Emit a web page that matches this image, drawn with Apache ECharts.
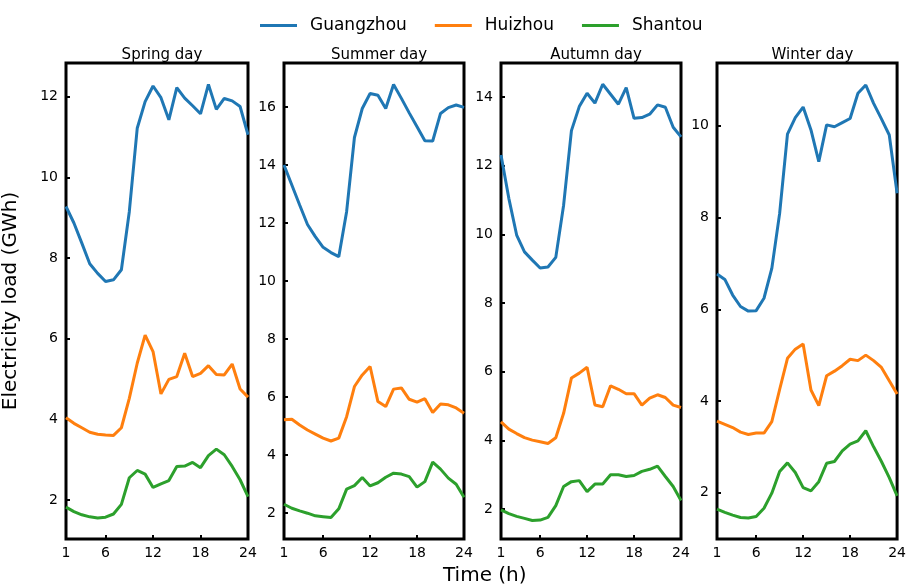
<!DOCTYPE html>
<html>
<head>
<meta charset="utf-8">
<script src="https://cdn.jsdelivr.net/npm/echarts@6/dist/echarts.min.js"></script>
<style>html,body{margin:0;padding:0;background:#fff}#c{width:909px;height:588px}</style>
</head>
<body>
<div id="c"></div>
<script>
const hours = [1,2,3,4,5,6,7,8,9,10,11,12,13,14,15,16,17,18,19,20,21,22,23,24];
const cities = ['Guangzhou','Huizhou','Shantou'];
const panelTitles = ['Spring day','Summer day','Autumn day','Winter day'];
const xTicks = [1,6,12,18,24];

const springGuangzhou = [9.28,8.87,8.37,7.86,7.62,7.42,7.46,7.71,9.15,11.22,11.88,12.27,11.98,11.43,12.23,11.97,11.78,11.58,12.31,11.69,11.96,11.90,11.76,11.06];
const springHuizhou = [4.04,3.90,3.79,3.68,3.63,3.61,3.60,3.79,4.52,5.39,6.09,5.68,4.63,4.99,5.06,5.64,5.06,5.14,5.33,5.11,5.10,5.37,4.75,4.55];
const springShantou = [1.82,1.71,1.63,1.58,1.55,1.57,1.65,1.89,2.55,2.73,2.64,2.31,2.40,2.48,2.83,2.84,2.93,2.80,3.10,3.26,3.12,2.83,2.50,2.08];

const summerGuangzhou = [14.0,13.31,12.62,11.95,11.53,11.16,10.98,10.84,12.39,14.95,15.95,16.47,16.41,15.95,16.78,16.30,15.80,15.32,14.84,14.83,15.78,15.98,16.07,15.99];
const summerHuizhou = [5.21,5.23,5.03,4.86,4.72,4.58,4.48,4.58,5.32,6.36,6.76,7.05,5.84,5.67,6.27,6.31,5.92,5.82,5.94,5.46,5.76,5.73,5.62,5.44];
const summerShantou = [2.30,2.16,2.07,1.99,1.90,1.87,1.84,2.14,2.82,2.94,3.22,2.93,3.04,3.23,3.37,3.34,3.25,2.89,3.08,3.75,3.51,3.20,2.99,2.54];

const autumnGuangzhou = [12.31,11.05,9.98,9.49,9.25,9.02,9.05,9.33,10.85,13.02,13.72,14.11,13.82,14.37,14.08,13.79,14.27,13.38,13.40,13.50,13.77,13.70,13.12,12.84];
const autumnHuizhou = [4.54,4.33,4.20,4.08,4.01,3.96,3.91,4.08,4.79,5.82,5.96,6.13,5.03,4.98,5.59,5.49,5.36,5.36,5.03,5.23,5.33,5.25,5.03,4.96];
const autumnShantou = [1.98,1.87,1.79,1.73,1.67,1.68,1.76,2.10,2.66,2.80,2.83,2.51,2.73,2.73,3.00,3.00,2.95,2.98,3.10,3.16,3.25,2.95,2.66,2.25];

const winterGuangzhou = [6.77,6.65,6.31,6.06,5.96,5.97,6.24,6.89,8.09,9.82,10.18,10.41,9.91,9.22,10.02,9.98,10.07,10.16,10.71,10.89,10.49,10.15,9.80,8.53];
const winterHuizhou = [3.56,3.49,3.42,3.32,3.27,3.30,3.30,3.55,4.25,4.93,5.13,5.24,4.24,3.90,4.55,4.65,4.77,4.91,4.88,5.00,4.88,4.73,4.44,4.15];
const winterShantou = [1.64,1.57,1.51,1.46,1.45,1.48,1.66,1.99,2.46,2.65,2.44,2.11,2.04,2.24,2.64,2.68,2.91,3.06,3.13,3.35,3.00,2.68,2.33,1.93];

const yRanges = [[1.03,12.84],[1.10,17.52],[1.13,14.99],[0.99,11.37]];
const yTicks = [[2,4,6,8,10,12],[2,4,6,8,10,12,14,16],[2,4,6,8,10,12,14],[2,4,6,8,10]];

const panelData = [
  [springGuangzhou, springHuizhou, springShantou],
  [summerGuangzhou, summerHuizhou, summerShantou],
  [autumnGuangzhou, autumnHuizhou, autumnShantou],
  [winterGuangzhou, winterHuizhou, winterShantou]
];
const colors = ['#1f77b4','#ff7f0e','#2ca02c'];
const gridLefts = [66, 284, 501, 717];
const gridWidths = [182, 180, 180, 181];
const FONT = 'DejaVu Sans';

const grids = [], xAxes = [], yAxes = [], series = [], titles = [];
for (let p = 0; p < 4; p++) {
  grids.push({left: gridLefts[p], width: gridWidths[p], top: 63, height: 476,
    show: true, borderColor: '#000', borderWidth: 3, backgroundColor: 'transparent'});
  xAxes.push({type: 'value', gridIndex: p, min: 1, max: 24,
    axisLine: {show: false}, splitLine: {show: false},
    axisTick: {show: true, inside: true, length: 4, lineStyle: {color: '#000', width: 2}, customValues: xTicks},
    axisLabel: {show: true, customValues: xTicks, color: '#000', fontSize: 14, fontFamily: FONT, margin: 7}});
  const ya = {type: 'value', gridIndex: p, min: yRanges[p][0], max: yRanges[p][1],
    axisLine: {show: false}, splitLine: {show: false},
    axisTick: {show: true, inside: true, length: 4, lineStyle: {color: '#000', width: 2}, customValues: yTicks[p]},
    axisLabel: {show: true, customValues: yTicks[p], color: '#000', fontSize: 14, fontFamily: FONT, margin: 8}};
  if (p === 0) {
    ya.name = 'Electricity load (GWh)';
    ya.nameLocation = 'middle';
    ya.nameGap = 45;
    ya.nameRotate = 90;
    ya.nameTextStyle = {color: '#000', fontSize: 20, fontFamily: FONT};
  }
  yAxes.push(ya);
  titles.push({text: panelTitles[p], left: gridLefts[p] + gridWidths[p] / 2, top: 43, textAlign: 'center',
    textStyle: {color: '#000', fontSize: 15, fontWeight: 'normal', fontFamily: FONT}});
  for (let c = 0; c < 3; c++) {
    series.push({type: 'line', name: cities[c], xAxisIndex: p, yAxisIndex: p,
      data: hours.map((h, i) => [h, panelData[p][c][i]]),
      showSymbol: false, symbol: 'none', lineStyle: {color: colors[c], width: 3}, itemStyle: {color: colors[c]},
      animation: false, z: 3});
  }
}

const chart = echarts.init(document.getElementById('c'), null, {renderer: 'canvas'});
chart.setOption({
  backgroundColor: '#fff',
  animation: false,
  color: colors,
  title: titles,
  legend: {
    top: 12, left: 255, itemGap: 28, itemWidth: 37, itemHeight: 3,
    data: cities.map(n => ({name: n, icon: 'rect'})),
    textStyle: {color: '#000', fontSize: 17, fontFamily: FONT, padding: [0, 0, 0, 8]}
  },
  grid: grids,
  xAxis: xAxes,
  yAxis: yAxes,
  series: series,
  graphic: [{type: 'text', left: 443, top: 566,
    style: {text: 'Time (h)', fill: '#000', fontSize: 20, fontFamily: FONT}}]
});
</script>
</body>
</html>
